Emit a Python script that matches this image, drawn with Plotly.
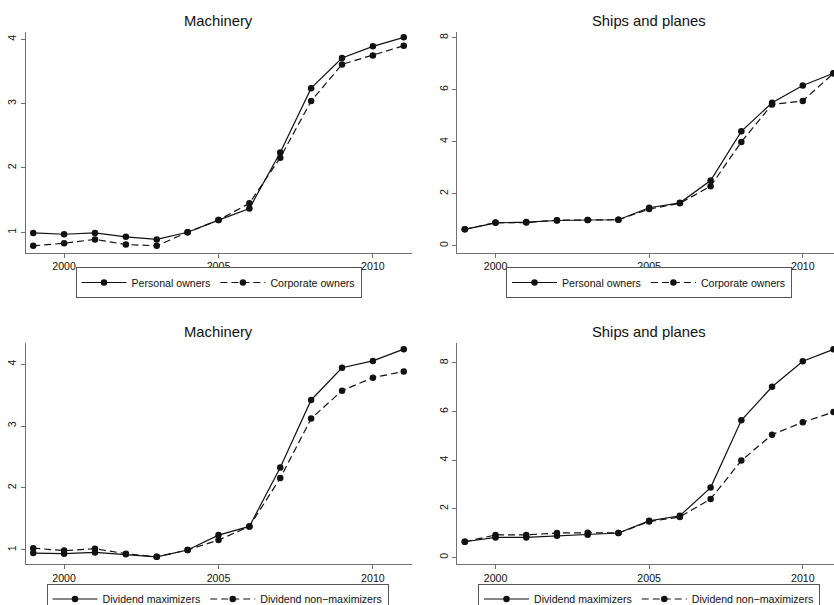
import plotly.graph_objects as go

# Years on the horizontal axis
years = [1999, 2000, 2001, 2002, 2003, 2004, 2005, 2006, 2007, 2008, 2009, 2010, 2011]

# Price indices by owner type
mach_personal = [0.99, 0.97, 0.99, 0.93, 0.89, 1.00, 1.19, 1.37, 2.24, 3.24, 3.71, 3.89, 4.03]
mach_corporate = [0.79, 0.83, 0.89, 0.81, 0.79, 1.00, 1.19, 1.45, 2.16, 3.04, 3.61, 3.75, 3.90]
ships_personal = [0.63, 0.88, 0.91, 0.97, 0.99, 1.00, 1.46, 1.65, 2.51, 4.40, 5.50, 6.16, 6.63]
ships_corporate = [0.63, 0.89, 0.89, 0.98, 0.99, 1.00, 1.41, 1.63, 2.29, 3.99, 5.43, 5.57, 6.63]

# Price indices by dividend policy
mach_maximizers = [0.95, 0.94, 0.96, 0.93, 0.89, 1.00, 1.24, 1.38, 2.33, 3.42, 3.94, 4.05, 4.24]
mach_nonmaximizers = [1.03, 0.99, 1.02, 0.94, 0.89, 1.00, 1.16, 1.38, 2.16, 3.12, 3.57, 3.78, 3.88]
ships_maximizers = [0.64, 0.82, 0.82, 0.89, 0.93, 1.00, 1.50, 1.71, 2.87, 5.64, 7.02, 8.07, 8.56]
ships_nonmaximizers = [0.64, 0.92, 0.92, 1.00, 1.01, 1.00, 1.47, 1.66, 2.40, 3.98, 5.05, 5.56, 5.98]

panel_titles = ["Machinery", "Ships and planes", "Machinery", "Ships and planes"]
owner_labels = ["Personal owners", "Corporate owners"]
dividend_labels = ["Dividend maximizers", "Dividend non\u2212maximizers"]
x_ticks = [2000, 2005, 2010]

W, H = 834, 605
FONT = "Liberation Sans, Arial, Helvetica, sans-serif"
INK = "#111111"
AXIS = "#707070"

fig = go.Figure()

panels = [
    # (axis suffix, legend name, solid series, dashed series, labels)
    ("", "legend", mach_personal, mach_corporate, owner_labels),
    ("2", "legend2", ships_personal, ships_corporate, owner_labels),
    ("3", "legend3", mach_maximizers, mach_nonmaximizers, dividend_labels),
    ("4", "legend4", ships_maximizers, ships_nonmaximizers, dividend_labels),
]

for suffix, leg, solid, dashed, labels in panels:
    for vals, dash, name in ((solid, "solid", labels[0]), (dashed, "7px,4px", labels[1])):
        fig.add_trace(go.Scatter(
            x=years, y=vals, name=name, mode="lines+markers",
            line=dict(color=INK, width=1.2, dash=dash),
            marker=dict(color=INK, size=6.5),
            xaxis="x" + suffix, yaxis="y" + suffix,
            legend=leg, cliponaxis=False, showlegend=True,
        ))

# Panel geometry in pixels
left_x0, left_x1 = 25.5, 411.5
left_range = [1998.75, 2011.25]
right_x0 = 457.3
right_range = [1998.756, 2011.016]
right_center = 649.0

top_y0, top_y1 = 31.7, 252.5
bot_y0, bot_y1 = 343.3, 564.0


def pdom(a, b):
    return [1 - b / H, 1 - a / H]


xcommon = dict(
    showline=True, linecolor=AXIS, linewidth=1, showgrid=False, zeroline=False,
    ticks="outside", ticklen=4, tickcolor=AXIS, tickvals=x_ticks,
    tickfont=dict(family=FONT, size=10.6, color=INK),
)
ycommon = dict(
    showline=True, linecolor=AXIS, linewidth=1, showgrid=False, zeroline=False,
    ticks="outside", ticklen=4, tickcolor=AXIS, tickangle=-90,
    tickfont=dict(family=FONT, size=10.6, color=INK),
)

fig.update_layout(
    xaxis=dict(xcommon, domain=[left_x0 / W, left_x1 / W], range=left_range, anchor="y"),
    yaxis=dict(ycommon, domain=pdom(top_y0, top_y1), range=[0.686, 4.118], tickvals=[1, 2, 3, 4], anchor="x"),
    xaxis2=dict(xcommon, domain=[right_x0 / W, 1.0], range=right_range, anchor="y2"),
    yaxis2=dict(ycommon, domain=pdom(top_y0, top_y1), range=[-0.26, 8.23], tickvals=[0, 2, 4, 6, 8], anchor="x2"),
    xaxis3=dict(xcommon, domain=[left_x0 / W, left_x1 / W], range=left_range, anchor="y3"),
    yaxis3=dict(ycommon, domain=pdom(bot_y0, bot_y1), range=[0.774, 4.334], tickvals=[1, 2, 3, 4], anchor="x3"),
    xaxis4=dict(xcommon, domain=[right_x0 / W, 1.0], range=right_range, anchor="y4"),
    yaxis4=dict(ycommon, domain=pdom(bot_y0, bot_y1), range=[-0.276, 8.81], tickvals=[0, 2, 4, 6, 8], anchor="x4"),
)

legend_common = dict(
    orientation="h", xanchor="center", yanchor="top",
    bordercolor="#555555", borderwidth=1, bgcolor="white",
    font=dict(family=FONT, size=10.6, color=INK),
    itemwidth=45,
    itemclick=False, itemdoubleclick=False,
)
fig.update_layout(
    legend=dict(legend_common, x=218.5 / W, y=1 - 267 / H),
    legend2=dict(legend_common, x=right_center / W, y=1 - 267 / H),
    legend3=dict(legend_common, x=217.5 / W, y=1 - 583.5 / H),
    legend4=dict(legend_common, x=right_center / W, y=1 - 583.5 / H),
)

title_pos = [
    ((left_x0 + left_x1) / 2, 20.7),
    (right_center, 20.7),
    ((left_x0 + left_x1) / 2, 332.3),
    (right_center, 332.3),
]
for title, (px, py) in zip(panel_titles, title_pos):
    fig.add_annotation(
        text=title, x=px / W, y=1 - py / H, xref="paper", yref="paper",
        xanchor="center", yanchor="middle", showarrow=False,
        font=dict(family=FONT, size=14.8, color=INK),
    )

fig.update_layout(
    width=W, height=H,
    margin=dict(l=0, r=0, t=0, b=0, autoexpand=False),
    paper_bgcolor="white", plot_bgcolor="white",
    font=dict(family=FONT, color=INK),
)

fig.write_html("out.html")
